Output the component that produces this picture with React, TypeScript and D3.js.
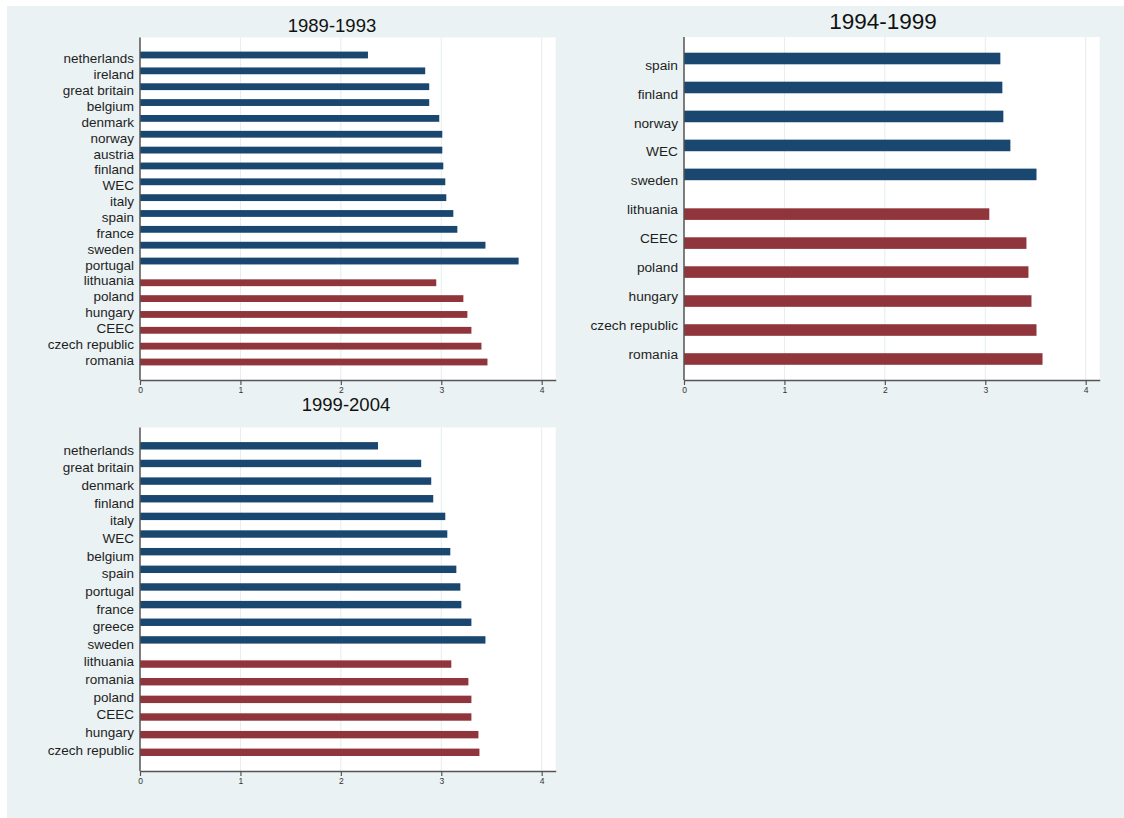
import React, { useEffect, useRef } from 'react';
import * as d3 from 'd3';

// 1989-1993
const west89 = ['netherlands', 'ireland', 'great britain', 'belgium', 'denmark', 'norway', 'austria', 'finland', 'WEC', 'italy', 'spain', 'france', 'sweden', 'portugal'];
const westVals89 = [2.27, 2.84, 2.88, 2.88, 2.98, 3.01, 3.01, 3.02, 3.04, 3.05, 3.12, 3.16, 3.44, 3.77];
const east89 = ['lithuania', 'poland', 'hungary', 'CEEC', 'czech republic', 'romania'];
const eastVals89 = [2.95, 3.22, 3.26, 3.30, 3.40, 3.46];

// 1994-1999
const west94 = ['spain', 'finland', 'norway', 'WEC', 'sweden'];
const westVals94 = [3.15, 3.17, 3.18, 3.25, 3.51];
const east94 = ['lithuania', 'CEEC', 'poland', 'hungary', 'czech republic', 'romania'];
const eastVals94 = [3.04, 3.41, 3.43, 3.46, 3.51, 3.57];

// 1999-2004
const west99 = ['netherlands', 'great britain', 'denmark', 'finland', 'italy', 'WEC', 'belgium', 'spain', 'portugal', 'france', 'greece', 'sweden'];
const westVals99 = [2.37, 2.80, 2.90, 2.92, 3.04, 3.06, 3.09, 3.15, 3.19, 3.20, 3.30, 3.44];
const east99 = ['lithuania', 'romania', 'poland', 'CEEC', 'hungary', 'czech republic'];
const eastVals99 = [3.10, 3.27, 3.30, 3.30, 3.37, 3.38];

const xTicks = [0, 1, 2, 3, 4];

const WEST_COLOR = '#1a476f';
const EAST_COLOR = '#90353b';
const GAP = 0.37;
const FONT = '"Liberation Sans", Arial, Helvetica, sans-serif';

const panels = [
	{
		title: '1989-1993', titleX: 332, titleY: 32, titleSize: 18.5, labSize: 13.5,
		west: west89, westVals: westVals89, east: east89, eastVals: eastVals89,
		left: 140, right: 555.7, top: 37.5, bottom: 380,
		barFirst: 55, barLast: 362, labFirst: 58.7, labLast: 360, thick: 0.43
	},
	{
		title: '1994-1999', titleX: 883, titleY: 29, titleSize: 22.5, labSize: 13.7,
		west: west94, westVals: westVals94, east: east94, eastVals: eastVals94,
		left: 684, right: 1099.7, top: 37, bottom: 380,
		barFirst: 58.5, barLast: 359, labFirst: 65, labLast: 354, thick: 0.4
	},
	{
		title: '1999-2004', titleX: 346, titleY: 411, titleSize: 18.5, labSize: 13.5,
		west: west99, westVals: westVals99, east: east99, eastVals: eastVals99,
		left: 140, right: 555.7, top: 427.5, bottom: 771,
		barFirst: 445.8, barLast: 752.3, labFirst: 450, labLast: 750, thick: 0.42
	}
];

const App: React.FC = () => {
	const svgRef = useRef<SVGSVGElement>(null);

	useEffect(() => {
		if (svgRef.current == null) return;
		const svg = d3.select(svgRef.current);
		svg.selectAll('*').remove();

		// graph region
		svg.append('rect')
			.attr('x', 7).attr('y', 6)
			.attr('width', 1117).attr('height', 812)
			.attr('fill', '#eaf2f3');

		panels.forEach(p => {
			const names = [...p.west, ...p.east];
			const vals = [...p.westVals, ...p.eastVals];
			const n = names.length;
			const nWest = p.west.length;

			const x = d3.scaleLinear()
				.domain([0, (p.right - p.left) / ((541.7 - 140) / 4)])
				.range([p.left, p.right]);
			const yBar = d3.scaleLinear().domain([0, n - 1 + GAP]).range([p.barFirst, p.barLast]);
			const yLab = d3.scaleLinear().domain([0, n - 1]).range([p.labFirst, p.labLast]);
			const step = (p.barLast - p.barFirst) / (n - 1 + GAP);
			const bh = step * p.thick;

			const g = svg.append('g');

			// plot region
			g.append('rect')
				.attr('x', p.left).attr('y', p.top)
				.attr('width', p.right - p.left).attr('height', p.bottom - p.top)
				.attr('fill', '#ffffff');

			// gridlines
			g.selectAll('.grid')
				.data(xTicks.filter(t => t > 0))
				.enter().append('line')
				.attr('x1', d => x(d)).attr('x2', d => x(d))
				.attr('y1', p.top).attr('y2', p.bottom)
				.attr('stroke', '#e4edf0')
				.attr('stroke-width', 1);

			// bars
			g.selectAll('.bar')
				.data(vals)
				.enter().append('rect')
				.attr('x', x(0))
				.attr('y', (d, i) => yBar(i + (i >= nWest ? GAP : 0)) - bh / 2)
				.attr('width', d => x(d) - x(0))
				.attr('height', bh)
				.attr('fill', (d, i) => (i < nWest ? WEST_COLOR : EAST_COLOR));

			// category labels
			g.selectAll('.lab')
				.data(names)
				.enter().append('text')
				.attr('x', p.left - 6)
				.attr('y', (d, i) => yLab(i))
				.attr('dy', '0.35em')
				.attr('text-anchor', 'end')
				.style('font-family', FONT)
				.style('font-size', `${p.labSize}px`)
				.style('fill', '#1e1e1e')
				.text(d => d);

			// x axis
			const axis = g.append('g')
				.attr('transform', `translate(0,${p.bottom})`)
				.call(d3.axisBottom(x).tickValues(xTicks).tickSize(5).tickSizeOuter(0).tickFormat(d3.format('d')));
			axis.select('.domain').attr('stroke', '#555').attr('stroke-width', 1.5);
			axis.selectAll('.tick line').attr('stroke', '#555').attr('stroke-width', 1.2);
			axis.selectAll('.tick text')
				.attr('y', 7)
				.style('font-family', FONT)
				.style('font-size', '8.5px')
				.style('fill', '#333');

			// y axis line
			g.append('line')
				.attr('x1', p.left).attr('x2', p.left)
				.attr('y1', p.top).attr('y2', p.bottom)
				.attr('stroke', '#555')
				.attr('stroke-width', 1.5);

			// title
			g.append('text')
				.attr('x', p.titleX)
				.attr('y', p.titleY)
				.attr('text-anchor', 'middle')
				.style('font-family', FONT)
				.style('font-size', `${p.titleSize}px`)
				.style('fill', '#111')
				.text(p.title);
		});
	}, []);

	return (
		<div style={{ position: 'absolute', left: 0, top: 0 }}>
			<svg ref={svgRef} width={1124} height={818} style={{ display: 'block', background: '#ffffff' }}></svg>
		</div>
	);
};

export default App;
